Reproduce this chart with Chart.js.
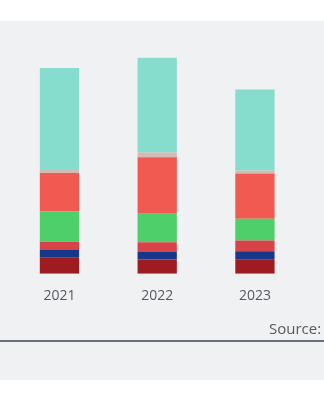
<!DOCTYPE html>
<html>
<head>
<meta charset="utf-8">
<script src="https://cdn.jsdelivr.net/npm/chart.js@4"></script>
<style>
  html, body { margin: 0; padding: 0; background: #ffffff; width: 324px; height: 400px; overflow: hidden; }
  #panel { position: absolute; left: 0; top: 21px; width: 324px; height: 359px; background: #f0f1f3; }
  #wrap { position: absolute; left: 0; top: 0; width: 324px; height: 330px; }
  #source { position: absolute; left: 269px; top: 318px; font-family: "Open Sans", sans-serif; font-size: 15px; color: #555a60; white-space: nowrap; }
  #rule { position: absolute; left: 0; top: 340px; width: 324px; height: 2px; background: #67707f; }
</style>
</head>
<body>
<div id="panel"></div>
<div id="wrap"><canvas id="c" width="324" height="330"></canvas></div>
<div id="source">Source:</div>
<div id="rule"></div>
<script>
const categories = ["2021", "2022", "2023"];
const seriesDarkRed = [1.60, 1.43, 1.40];
const seriesNavy    = [0.77, 0.80, 0.86];
const seriesCrimson = [0.83, 0.93, 1.07];
const seriesGreen   = [3.03, 2.84, 2.17];
const seriesRed     = [3.84, 5.63, 4.50];
const seriesGrey    = [0.28, 0.47, 0.30];
const seriesTeal    = [10.18, 9.46, 8.10];

const colors = ["#9e1c1f", "#17388a", "#d8434a", "#4fcf69", "#f05a50", "#d2bbb5", "#86dccd"];
const seriesList = [seriesDarkRed, seriesNavy, seriesCrimson, seriesGreen, seriesRed, seriesGrey, seriesTeal];
const seriesNames = ["A", "B", "C", "D", "E", "F", "G"];

new Chart(document.getElementById("c"), {
  type: "bar",
  data: {
    labels: categories,
    datasets: seriesList.map((d, i) => ({
      label: seriesNames[i],
      data: d,
      backgroundColor: colors[i],
      borderWidth: 0,
      categoryPercentage: 1,
      barPercentage: 0.402
    }))
  },
  options: {
    responsive: false,
    animation: false,
    layout: { padding: { left: 10.6, right: 20.2, top: 23.3, bottom: 11.4 } },
    plugins: { legend: { display: false }, tooltip: { enabled: false } },
    scales: {
      x: {
        stacked: true,
        grid: { display: false, drawTicks: false },
        border: { display: false },
        ticks: { padding: 14, color: "#555a60", font: { family: "Open Sans", size: 14 } }
      },
      y: {
        stacked: true,
        display: false,
        min: 0,
        max: 25
      }
    }
  }
});
</script>
</body>
</html>
